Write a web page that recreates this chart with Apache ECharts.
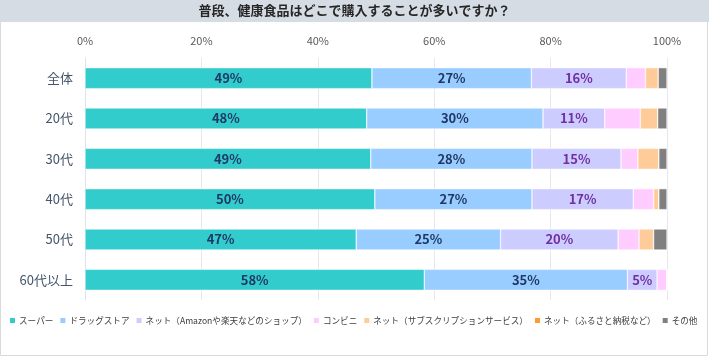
<!DOCTYPE html>
<html><head><meta charset="utf-8">
<script src="https://cdn.jsdelivr.net/npm/echarts@6/dist/echarts.min.js"></script>
<style>html,body{margin:0;padding:0;background:#fff}#c{width:709px;height:357px}</style>
</head><body><div id="c"></div>
<script>
const titleText = '普段、健康食品はどこで購入することが多いですか？';
const categories = ['全体', '20代', '30代', '40代', '50代', '60代以上'];
const seriesNames = ['スーパー', 'ドラッグストア', 'ネット（Amazonや楽天などのショップ）', 'コンビニ', 'ネット（サブスクリプションサービス）', 'ネット（ふるさと納税など）', 'その他'];
const superMarket = [49.3, 48.4, 49.1, 49.8, 46.6, 58.3];
const drugstore = [27.4, 30.3, 27.7, 27.0, 24.8, 34.9];
const netShop = [16.3, 10.6, 15.3, 17.4, 20.2, 5.1];
const conbini = [3.3, 6.1, 2.9, 3.5, 3.6, 1.7];
const netSubscription = [2.2, 3.0, 3.6, 0.9, 2.5, 0];
const netFurusato = [0, 0, 0, 0, 0, 0];
const other = [1.5, 1.6, 1.4, 1.4, 2.3, 0];
const xTicks = [0, 20, 40, 60, 80, 100];

const values = [superMarket, drugstore, netShop, conbini, netSubscription, netFurusato, other];
const colors = ['#33CCCC', '#99CCFF', '#CCCCFF', '#FFCCFF', '#FFCC99', '#FF9933', '#808080'];
const labelColors = ['#1F3864', '#1F3864', '#7030A0'];
const FONT = '"Noto Sans CJK JP", "Noto Sans", sans-serif';

const chart = echarts.init(document.getElementById('c'));
chart.setOption({
  animation: false,
  textStyle: { fontFamily: FONT },
  graphic: [
    { type: 'rect', shape: { x: 0.5, y: 0.5, width: 707, height: 355 }, style: { fill: 'none', stroke: '#D9D9D9', lineWidth: 1 }, z: -10 },
    { type: 'rect', shape: { x: 0, y: 0, width: 709, height: 22 }, style: { fill: '#D6DCE4' }, z: -5 },
    { type: 'text', left: 'center', top: 4, style: { text: titleText, font: 'bold 13px ' + FONT, fill: '#262626' } }
  ],
  grid: { left: 85, right: 42, top: 58, bottom: 57 },
  xAxis: {
    type: 'value', position: 'top', min: 0, max: 100, interval: 20,
    axisLabel: { formatter: v => xTicks.includes(v) ? v + '%' : '', color: '#595959', fontSize: 11, margin: 12 },
    axisLine: { show: false }, axisTick: { show: false },
    splitLine: { lineStyle: { color: '#E7E8EE', width: 1 } }
  },
  yAxis: {
    type: 'category', inverse: true, data: categories,
    axisLabel: { color: '#44546A', fontSize: 13, margin: 12 },
    axisLine: { lineStyle: { color: '#DDE3EC' } }, axisTick: { show: false }
  },
  legend: {
    top: 316, left: 8, width: 700, itemWidth: 7, itemHeight: 7, itemGap: 5, icon: 'rect', padding: 0,
    textStyle: { color: '#404040', fontSize: 8.6, padding: [0, 0, 0, -2] },
    data: seriesNames
  },
  series: seriesNames.map((name, i) => ({
    name, type: 'bar', stack: 'total', barWidth: 21,
    data: values[i],
    itemStyle: { color: colors[i], borderColor: '#fff', borderWidth: 0.5 },
    label: {
      show: i < 3, position: 'inside',
      formatter: p => p.value >= 5 ? Math.round(p.value) + '%' : '',
      color: labelColors[i] || '#1F3864', fontSize: 13, fontWeight: 'bold'
    }
  }))
});
</script></body></html>
